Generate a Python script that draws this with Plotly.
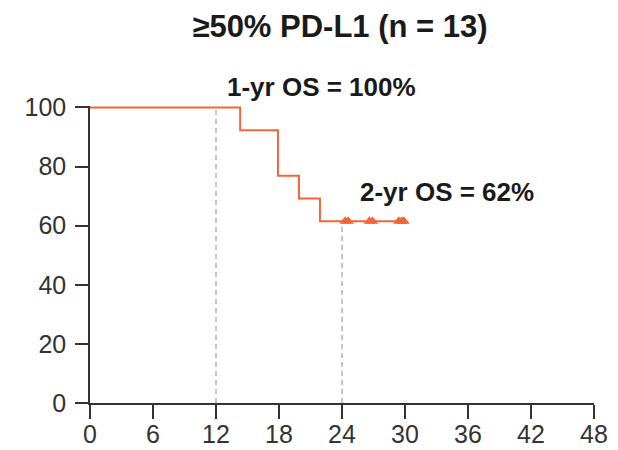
import plotly.graph_objects as go

# Kaplan-Meier step data (months, OS %)
step_months = [0, 14.3, 17.9, 19.9, 21.9, 30.0]
step_os = [100, 92.3, 76.9, 69.2, 61.5, 61.5]

# Censor marks
censor_months = [24.3, 24.6, 26.6, 26.9, 29.4, 29.7, 29.9]
censor_os = [61.5, 61.5, 61.5, 61.5, 61.5, 61.5, 61.5]

# Landmark reference lines
landmark_months = [12, 24]
landmark_os = [100, 61.5]
landmark_labels = ["1-yr OS = 100%", "2-yr OS = 62%"]

x_ticks = [0, 6, 12, 18, 24, 30, 36, 42, 48]
y_ticks = [0, 20, 40, 60, 80, 100]

title_text = "≥50% PD-L1 (n = 13)"

ORANGE = "#F3653A"
AXIS = "#333333"
FONT = "Liberation Sans, Arial, sans-serif"

W, H = 618, 450
ML, MR, MT, MB = 90, 24, 105.5, 47

fig = go.Figure()

for xm, yo in zip(landmark_months, landmark_os):
    fig.add_trace(go.Scatter(
        x=[xm, xm], y=[0, yo], mode="lines",
        line=dict(color="#8a8a8a", width=1, dash="5px,4px"),
        showlegend=False, hoverinfo="skip"))

fig.add_trace(go.Scatter(
    x=step_months, y=step_os, mode="lines",
    line=dict(color=ORANGE, width=2, shape="hv"),
    showlegend=False))

fig.add_trace(go.Scatter(
    x=censor_months, y=censor_os, mode="markers",
    marker=dict(symbol="triangle-up", size=10, color=ORANGE),
    cliponaxis=False, showlegend=False))

# label positions in pixels (centre x, centre y)
ann_px = [(321, 86), (447, 192)]
ph = H - MT - MB
pw = W - ML - MR
for (px, py), lbl in zip(ann_px, landmark_labels):
    fig.add_annotation(x=(px - ML) / pw, y=(H - MB - py) / ph, xref="paper", yref="paper",
                       text="<b>" + lbl + "</b>",
                       showarrow=False, xanchor="center", yanchor="middle",
                       font=dict(family=FONT, size=26, color="#1a1a1a"))

fig.update_layout(
    width=W, height=H,
    margin=dict(l=ML, r=MR, t=MT, b=MB),
    paper_bgcolor="white", plot_bgcolor="white",
    title=dict(text="<b>" + title_text + "</b>", x=340 / W, xanchor="center",
               y=1 - 26 / H, yanchor="middle",
               font=dict(family=FONT, size=31, color="#1a1a1a")),
    font=dict(family=FONT, color=AXIS),
)
fig.update_xaxes(range=[0, 48], tickvals=x_ticks, showgrid=False, zeroline=False,
                 showline=True, linecolor=AXIS, linewidth=1.5, automargin=False,
                 ticks="outside", ticklen=14, tickwidth=1.5, tickcolor=AXIS,
                 ticklabelstandoff=-6,
                 tickfont=dict(family=FONT, size=25, color="#333333"))
fig.update_yaxes(range=[0, 100.5], tickvals=y_ticks, showgrid=False, zeroline=False,
                 showline=True, linecolor=AXIS, linewidth=1.5, automargin=False,
                 ticks="outside", ticklen=13, tickwidth=1.5, tickcolor=AXIS,
                 ticklabelstandoff=4,
                 tickfont=dict(family=FONT, size=25, color="#333333"))

fig.write_html("out.html")
